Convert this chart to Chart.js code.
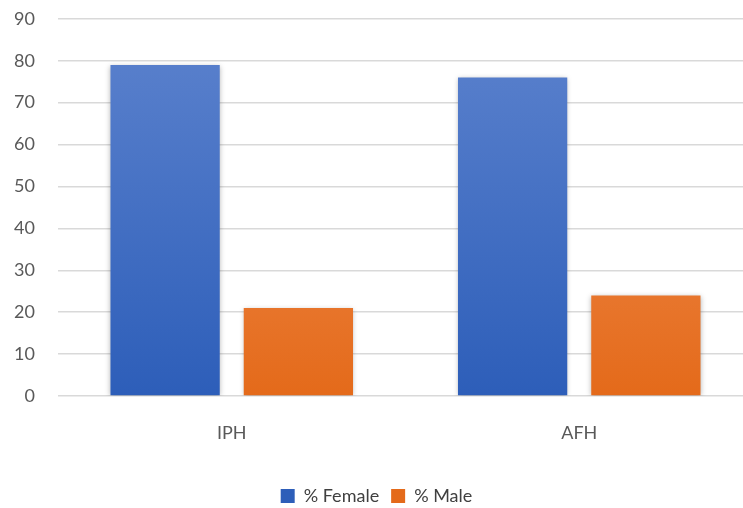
<!DOCTYPE html>
<html>
<head>
<meta charset="utf-8">
<script src="https://cdn.jsdelivr.net/npm/chart.js@4/dist/chart.umd.min.js"></script>
<style>
  html, body { margin: 0; padding: 0; background: #fff; overflow: hidden; }
  #wrap { width: 753px; height: 530px; margin-top: -15px; }
</style>
</head>
<body>
<div id="wrap"><canvas id="chart"></canvas></div>
<script>
// data
const categories = ['IPH', 'AFH'];
const femaleValues = [79, 76];
const maleValues = [21, 24];
const seriesNames = ['% Female', '% Male'];

function vertical(ctx, top, bottom) {
    const area = ctx.chart.chartArea;
    if (!area) return bottom;
    const g = ctx.chart.ctx.createLinearGradient(0, area.top, 0, area.bottom);
    g.addColorStop(0, top);
    g.addColorStop(1, bottom);
    return g;
}

// soft drop shadow under the bars, like the office chart
const barShadow = {
    id: 'barShadow',
    beforeDatasetsDraw(chart) {
        const c = chart.ctx;
        c.save();
        c.shadowColor = 'rgba(0,0,0,0.28)';
        c.shadowBlur = 5;
        c.shadowOffsetX = 0;
        c.shadowOffsetY = 1;
    },
    afterDatasetsDraw(chart) {
        chart.ctx.restore();
    }
};

const textColor = '#595959';
const font = { family: 'Lato, "Open Sans", sans-serif', size: 18 };

new Chart(document.getElementById('chart'), {
    type: 'bar',
    data: {
        labels: categories,
        datasets: [{
            label: seriesNames[0],
            data: femaleValues,
            backgroundColor: ctx => vertical(ctx, '#5D83CE', '#2D5EB9'),
            borderWidth: 0
        }, {
            label: seriesNames[1],
            data: maleValues,
            backgroundColor: ctx => vertical(ctx, '#F29660', '#E46A1A'),
            borderWidth: 0
        }]
    },
    plugins: [barShadow],
    options: {
        responsive: true,
        maintainAspectRatio: false,
        animation: false,
        layout: {
            padding: { left: 0, right: 0, top: 0, bottom: 0 }
        },
        datasets: {
            bar: { categoryPercentage: 0.767, barPercentage: 0.82 }
        },
        scales: {
            x: {
                grid: { display: false },
                border: { display: false },
                ticks: { color: textColor, font: font, padding: 18 },
                afterFit: scale => { scale.height = 79; }
            },
            y: {
                min: 0,
                max: 90,
                ticks: { stepSize: 10, color: textColor, font: font, padding: 23 },
                grid: { color: '#d9d9d9', lineWidth: 1.5, drawTicks: false },
                border: { display: false },
                afterFit: scale => { scale.width = 58; }
            }
        },
        plugins: {
            legend: {
                position: 'bottom',
                labels: {
                    color: '#404040',
                    font: font,
                    boxWidth: 14,
                    boxHeight: 14,
                    padding: 12
                }
            },
            tooltip: { enabled: false }
        }
    }
});
</script>
</body>
</html>
